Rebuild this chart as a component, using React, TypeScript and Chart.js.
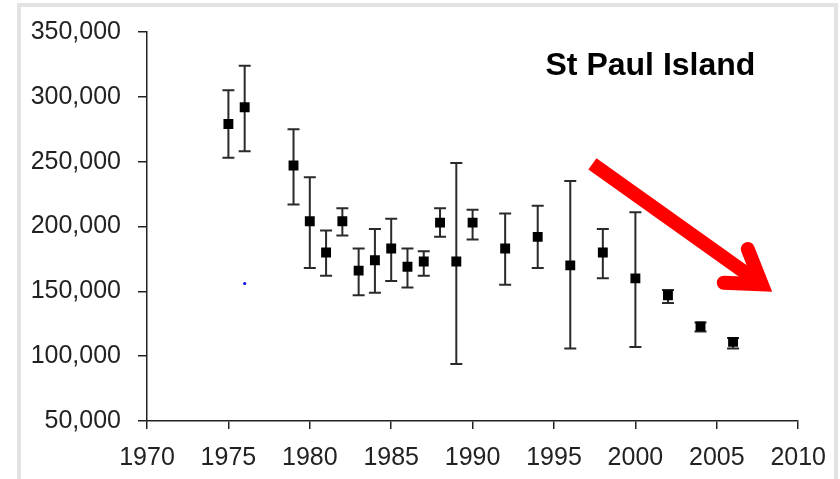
import React, { useEffect, useRef } from 'react';
import { Chart, registerables } from 'chart.js';

Chart.register(...registerables);

// ---- data ----
const years = [1975, 1976, 1979, 1980, 1981, 1982, 1983, 1984, 1985, 1986, 1987, 1988, 1989, 1990, 1992, 1994, 1996, 1998, 2000, 2002, 2004, 2006];
const estimates = [279000, 292000, 247000, 204000, 180000, 204000, 166000, 174000, 183000, 169000, 173000, 203000, 173000, 203000, 183000, 192000, 170000, 180000, 160000, 147000, 123000, 111000];
const lowerBounds = [253000, 258000, 217000, 168000, 162000, 193000, 147000, 149000, 158000, 153000, 162000, 192000, 94000, 190000, 155000, 168000, 106000, 160000, 107000, 141000, 119000, 106000];
const upperBounds = [305000, 324000, 275000, 238000, 197000, 214000, 183000, 198000, 206000, 183000, 181000, 214000, 249000, 213000, 210000, 216000, 235000, 198000, 211000, 151000, 126000, 114000];
const strayYears = [1976];
const strayValues = [156000];
const xTicks = [1970, 2010, 5];
const yTicks = [50000, 350000, 50000];
const titleText = 'St Paul Island';
const titleAnchor = [1994.48, 317000];
const arrowStart = [1997.36, 248300];
const arrowTip = [2007.76, 155400];

const FONT = "'Liberation Sans', Arial, sans-serif";

const overlayPlugin = {
  id: 'overlay',
  beforeDatasetsDraw(chart: any) {
    const { ctx, scales } = chart;
    const xs = scales.x;
    const ys = scales.y;
    ctx.save();
    ctx.strokeStyle = '#2a2a2a';
    ctx.lineWidth = 2;
    const cap = 6;
    years.forEach((yr, i) => {
      const px = xs.getPixelForValue(yr);
      const pLo = ys.getPixelForValue(lowerBounds[i]);
      const pHi = ys.getPixelForValue(upperBounds[i]);
      ctx.beginPath();
      ctx.moveTo(px, pLo);
      ctx.lineTo(px, pHi);
      ctx.moveTo(px - cap, pLo);
      ctx.lineTo(px + cap, pLo);
      ctx.moveTo(px - cap, pHi);
      ctx.lineTo(px + cap, pHi);
      ctx.stroke();
    });
    ctx.restore();
  },
  afterDatasetsDraw(chart: any) {
    const { ctx, scales } = chart;
    const xs = scales.x;
    const ys = scales.y;
    ctx.save();
    // arrow
    const sx = xs.getPixelForValue(arrowStart[0]);
    const sy = ys.getPixelForValue(arrowStart[1]);
    const tx = xs.getPixelForValue(arrowTip[0]);
    const ty = ys.getPixelForValue(arrowTip[1]);
    const ang = Math.atan2(ty - sy, tx - sx);
    const half = (33 * Math.PI) / 180;
    const L = 38;
    ctx.strokeStyle = '#ff0000';
    ctx.lineWidth = 14;
    ctx.lineCap = 'butt';
    ctx.beginPath();
    ctx.moveTo(sx, sy);
    ctx.lineTo(tx, ty);
    ctx.stroke();
    ctx.lineCap = 'round';
    ctx.lineJoin = 'miter';
    ctx.miterLimit = 10;
    ctx.beginPath();
    ctx.moveTo(tx - L * Math.cos(ang - half), ty - L * Math.sin(ang - half));
    ctx.lineTo(tx, ty);
    ctx.lineTo(tx - L * Math.cos(ang + half), ty - L * Math.sin(ang + half));
    ctx.stroke();
    // title
    ctx.fillStyle = '#000';
    ctx.font = `bold 32px ${FONT}`;
    ctx.textAlign = 'left';
    ctx.textBaseline = 'alphabetic';
    ctx.fillText(titleText, xs.getPixelForValue(titleAnchor[0]), ys.getPixelForValue(titleAnchor[1]));
    ctx.restore();
  },
};

export default function App() {
  const ref = useRef<HTMLCanvasElement>(null);
  useEffect(() => {
    document.body.style.margin = '0';
    const chart = new Chart(ref.current!, {
      type: 'scatter',
      data: {
        datasets: [
          {
            data: years.map((yr, i) => ({ x: yr, y: estimates[i] })),
            pointStyle: 'rect',
            pointRadius: 7,
            backgroundColor: '#000',
            borderWidth: 0,
            showLine: false,
          },
          {
            data: strayYears.map((yr, i) => ({ x: yr, y: strayValues[i] })),
            pointStyle: 'circle',
            pointRadius: 1.5,
            backgroundColor: '#0000ff',
            borderWidth: 0,
          },
        ],
      },
      options: {
        animation: false,
        responsive: false,
        devicePixelRatio: 1,
        layout: { padding: { top: 30, right: 41, left: 0, bottom: 0 } },
        plugins: { legend: { display: false }, tooltip: { enabled: false }, title: { display: false } },
        scales: {
          x: {
            type: 'linear',
            min: xTicks[0],
            max: xTicks[1],
            afterFit: (s: any) => { s.height = 58; },
            ticks: {
              stepSize: xTicks[2],
              callback: (v: any) => String(v),
              font: { family: FONT, size: 25 },
              color: '#222',
              padding: 14,
              maxRotation: 0,
            },
            grid: { display: true, drawOnChartArea: false, drawTicks: true, tickLength: 8, color: '#222', lineWidth: 1.5 },
            border: { display: true, color: '#222', width: 1.5 },
          },
          y: {
            type: 'linear',
            min: yTicks[0],
            max: yTicks[1],
            afterFit: (s: any) => { s.width = 147; },
            ticks: {
              stepSize: yTicks[2],
              callback: (v: any) => Number(v).toLocaleString('en-US'),
              font: { family: FONT, size: 25 },
              color: '#222',
              padding: 17,
            },
            grid: { display: true, drawOnChartArea: false, drawTicks: true, tickLength: 9, color: '#222', lineWidth: 1.5 },
            border: { display: true, color: '#222', width: 1.5 },
          },
        },
      },
      plugins: [overlayPlugin],
    } as any);
    return () => chart.destroy();
  }, []);
  return (
    <div style={{ position: 'relative', width: 840, height: 479, overflow: 'hidden', background: '#fff' }}>
      <div style={{ position: 'absolute', left: 17, top: 3, width: 821, height: 520, border: '4px solid #e3e3e3', boxSizing: 'border-box' }} />
      <canvas ref={ref} width={840} height={479} style={{ position: 'absolute', left: 0, top: 0, width: 840, height: 479 }} />
    </div>
  );
}
